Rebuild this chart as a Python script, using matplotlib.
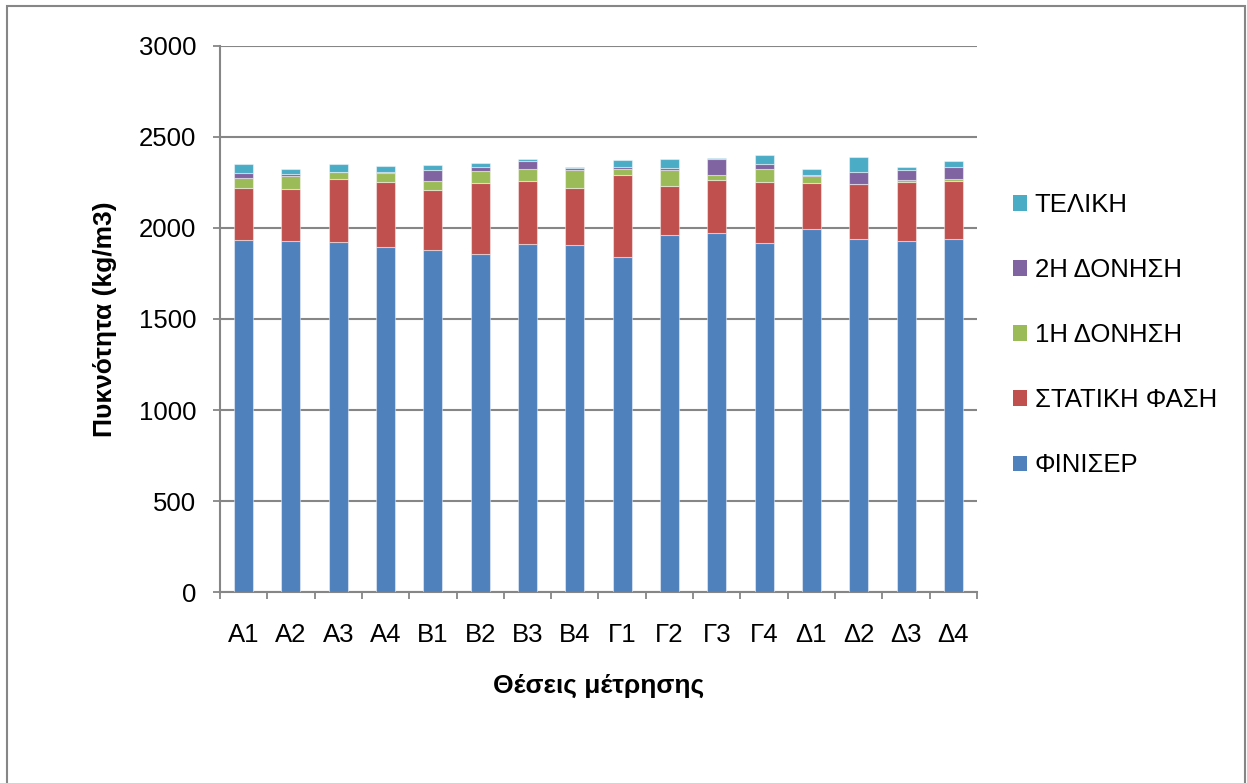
import numpy as np
import matplotlib
matplotlib.use('Agg')
import matplotlib.pyplot as plt
from matplotlib.patches import Rectangle, Patch

plt.rcParams['font.family'] = ['Liberation Sans', 'DejaVu Sans']

categories = ['Α1', 'Α2', 'Α3', 'Α4', 'Β1', 'Β2', 'Β3', 'Β4',
              'Γ1', 'Γ2', 'Γ3', 'Γ4', 'Δ1', 'Δ2', 'Δ3', 'Δ4']
finisher = [1932, 1927, 1923, 1896, 1881, 1855, 1910, 1905, 1839, 1962, 1971, 1918, 1997, 1940, 1927, 1940]
static = [289, 289, 348, 359, 330, 394, 350, 316, 451, 270, 291, 333, 249, 302, 328, 320]
vib1 = [55, 70, 37, 49, 47, 66, 64, 99, 36, 87, 28, 73, 40, 2, 11, 11]
vib2 = [28, 12, 0, 3, 59, 18, 46, 11, 9, 12, 91, 26, 5, 65, 54, 66]
final = [46, 26, 45, 35, 29, 26, 9, 2, 37, 50, 2, 49, 31, 83, 15, 31]

series = [finisher, static, vib1, vib2, final]
names = ['ΦΙΝΙΣΕΡ', 'ΣΤΑΤΙΚΗ ΦΑΣΗ', '1Η ΔΟΝΗΣΗ', '2Η ΔΟΝΗΣΗ', 'ΤΕΛΙΚΗ']
colors = ['#4F81BD', '#C0504D', '#9BBB59', '#8064A2', '#4BACC6']

fig = plt.figure(figsize=(12.47, 7.83), dpi=100)
ax = fig.add_axes([0.1764, 0.2439, 0.6071, 0.6974])

x = np.arange(len(categories))
bottom = np.zeros(len(categories))
for vals, name, c in zip(series, names, colors):
    ax.bar(x, vals, 0.4, bottom=bottom, color=c, label=name,
           edgecolor=(1, 1, 1, 0.45), linewidth=0.8, zorder=3)
    bottom += np.array(vals)

ax.set_xlim(-0.5, len(categories) - 0.5)
ax.set_ylim(0, 3000)
ax.set_yticks(range(0, 3001, 500))
ax.yaxis.grid(True, color='#868686', linewidth=1.5, zorder=0)
ax.set_axisbelow(True)

ax.set_xticks(x)
ax.set_xticklabels(categories)
ax.set_xticks(np.arange(-0.5, len(categories)), minor=True)
ax.tick_params(axis='x', which='major', length=0, pad=22, labelsize=18.5)
ax.tick_params(axis='x', which='minor', length=5, width=1.3, color='#868686', direction='out')
ax.tick_params(axis='y', length=5, width=1.3, color='#868686', pad=12, labelsize=18.5)

for s in ['top', 'right']:
    ax.spines[s].set_visible(False)
for s in ['left', 'bottom']:
    ax.spines[s].set_color('#868686')
    ax.spines[s].set_linewidth(1.5)

ax.set_xlabel('Θέσεις μέτρησης', fontsize=19, fontweight='bold')
ax.xaxis.set_label_coords(0.5, -0.150)
ax.set_ylabel('Πυκνότητα (kg/m3)', fontsize=19, fontweight='bold')
ax.yaxis.set_label_coords(-0.136, 0.5)

handles = [Patch(facecolor=c) for c in colors][::-1]
fig.legend(handles, names[::-1], loc='center left', bbox_to_anchor=(0.802, 0.572),
           frameon=False, fontsize=18.5, handlelength=0.55, handleheight=0.55,
           handletextpad=0.3, labelspacing=1.6, borderpad=0)

# outer chart border
fig.patches.append(Rectangle((7 / 1247, -0.05), 1238 / 1247, 0.05 + 777 / 783,
                             transform=fig.transFigure, fill=False,
                             edgecolor='#868686', linewidth=1.5))

fig.savefig('out.png', dpi=100)
